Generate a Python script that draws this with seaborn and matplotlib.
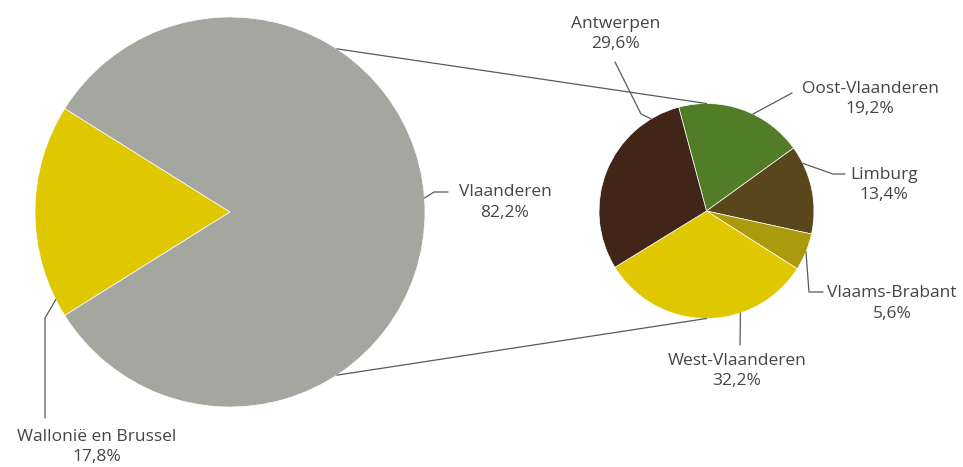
import numpy as np
import matplotlib.pyplot as plt
import seaborn as sns

# Data
regions = ['Wallonië en Brussel', 'Vlaanderen']
region_share = [17.8, 82.2]
provinces = ['Oost-Vlaanderen', 'Limburg', 'Vlaams-Brabant', 'West-Vlaanderen', 'Antwerpen']
province_share = [19.2, 13.4, 5.6, 32.2, 29.6]

# Colours
region_colors = ['#dfc800', '#a6a6a1']
province_colors = sns.color_palette(['#517d27', '#5a461c', '#ab9a0c', '#dfc800', '#412518'])
text_color = '#454545'
line_color = '#5a5a5a'

sns.set_theme(style='white')
plt.rcParams['font.family'] = ['Open Sans', 'DejaVu Sans']

W, H = 963, 467


def fy(y):
    # pixel row (from top) -> axis y
    return H - y


# layout (pixels, measured from the top-left)
big_c, big_r = (230, 212), 195
small_c, small_r = (706.5, 211), 107.5
connector_angle = 56.8

# label position, leader anchor angle, leader path after the anchor
region_layout = {
    'Wallonië en Brussel': ((97, 447), 206.7, [(45, 318), (45, 418)]),
    'Vlaanderen': ((505, 202.5), 4.1, [(434, 192), (448, 192)]),
}
province_layout = {
    'Antwerpen': ((616, 34), 121, [(641, 114), (615, 62)]),
    'Oost-Vlaanderen': ((870, 99), 64.4, [(792, 93)]),
    'Limburg': ((884, 185), 26.3, [(833, 174), (845, 174)]),
    'Vlaams-Brabant': ((892, 303.5), -22.3, [(809, 292), (823, 292)]),
    'West-Vlaanderen': ((737, 371), -71.6, [(740, 345)]),
}


def pct(v):
    return f'{v:.1f}%'.replace('.', ',')


fig = plt.figure(figsize=(W / 100, H / 100), dpi=100)
ax = fig.add_axes([0, 0, 1, 1])
ax.set_xlim(0, W)
ax.set_ylim(0, H)
ax.set_aspect('equal')
ax.axis('off')

# big pie: Wallonië slice centred on the left
start = 180 - region_share[0] * 3.6 / 2
ax.pie(region_share, colors=region_colors, startangle=start, counterclock=True,
       center=(big_c[0], fy(big_c[1])), radius=big_r,
       wedgeprops=dict(linewidth=0.5, edgecolor='white'), frame=True)

# small pie with the breakdown of Vlaanderen
ax.pie(province_share, colors=province_colors, startangle=105, counterclock=False,
       center=(small_c[0], fy(small_c[1])), radius=small_r,
       wedgeprops=dict(linewidth=0.5, edgecolor='white'), frame=True)
ax.set_xlim(0, W)
ax.set_ylim(0, H)

# connector lines between both pies
for sign in (1, -1):
    a = np.radians(sign * connector_angle)
    x0 = big_c[0] + big_r * np.cos(a)
    y0 = fy(big_c[1]) + big_r * np.sin(a)
    x1 = small_c[0]
    y1 = fy(small_c[1]) + sign * small_r
    ax.plot([x0, x1], [y0, y1], color=line_color, lw=0.9)


def draw_labels(names, values, layout, center, radius):
    for name, val in zip(names, values):
        (lx, ly), ang, path = layout[name]
        a = np.radians(ang)
        xs = [center[0] + radius * np.cos(a)] + [p[0] for p in path]
        ys = [fy(center[1]) + radius * np.sin(a)] + [fy(p[1]) for p in path]
        ax.plot(xs, ys, color=line_color, lw=0.9)
        ax.text(lx, fy(ly), f'{name}\n{pct(val)}', ha='center', va='center',
                fontsize=12.5, color=text_color, linespacing=1.38)


draw_labels(regions, region_share, region_layout, big_c, big_r)
draw_labels(provinces, province_share, province_layout, small_c, small_r)

fig.savefig('out.png', dpi=100)
